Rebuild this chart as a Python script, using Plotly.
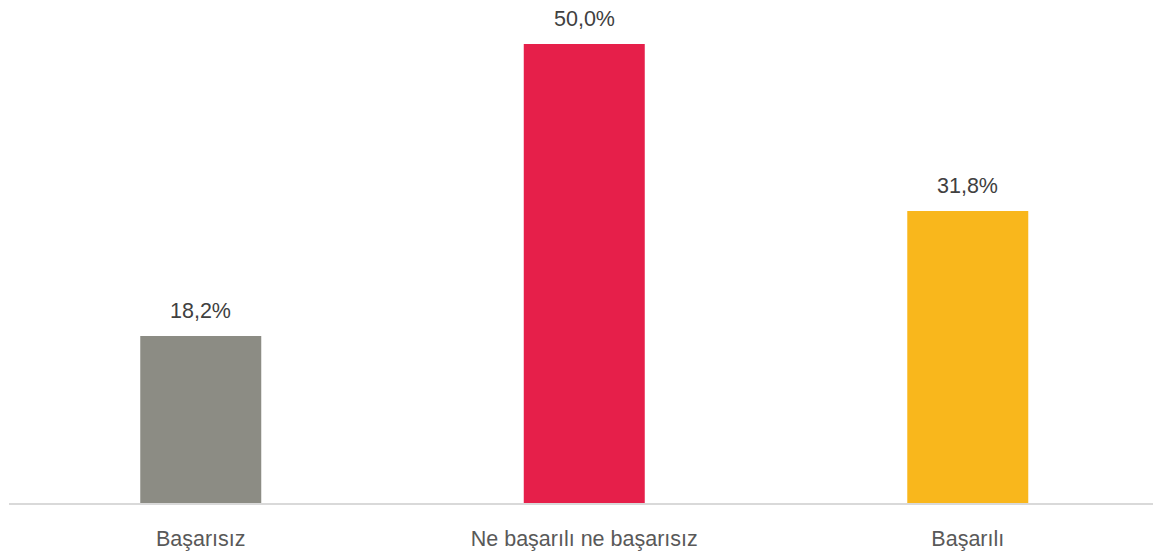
import plotly.graph_objects as go

categories = ['Başarısız', 'Ne başarılı ne başarısız', 'Başarılı']
values = [18.2, 50.0, 31.8]
colors = ['#8c8c84', '#e61f4a', '#f9b71c']

fig = go.Figure()
fig.add_trace(go.Bar(
    x=categories,
    y=values,
    marker=dict(color=colors, line=dict(width=0)),
    width=0.3155,
    hoverinfo='skip'
))

for c, v in zip(categories, values):
    fig.add_annotation(
        x=c, y=v, text=f'{v:.1f}'.replace('.', ',') + '%',
        showarrow=False, yanchor='middle', yshift=25,
        font=dict(family='Liberation Sans, Arial', size=21.5, color='#404040')
    )

fig.update_layout(
    width=1153,
    height=551,
    margin=dict(l=9, r=0, t=0, b=48, autoexpand=False),
    plot_bgcolor='white',
    paper_bgcolor='white',
    showlegend=False,
    separators=',.',
    xaxis=dict(
        range=[-0.5, 2.483], automargin=False,
        showline=True, linecolor='#d9d9d9', linewidth=1.5,
        showgrid=False, ticks='outside', ticklen=15, tickcolor='rgba(0,0,0,0)',
        tickfont=dict(family='Liberation Sans, Arial', size=21.5, color='#595959')
    ),
    yaxis=dict(range=[0, 54.8], visible=False, showgrid=False, automargin=False)
)

# page has a default 8px body margin; drop it so the chart sits at 0,0
fig.write_html('out.html', config={'displayModeBar': False},
               post_script="document.body.style.margin='0';")
